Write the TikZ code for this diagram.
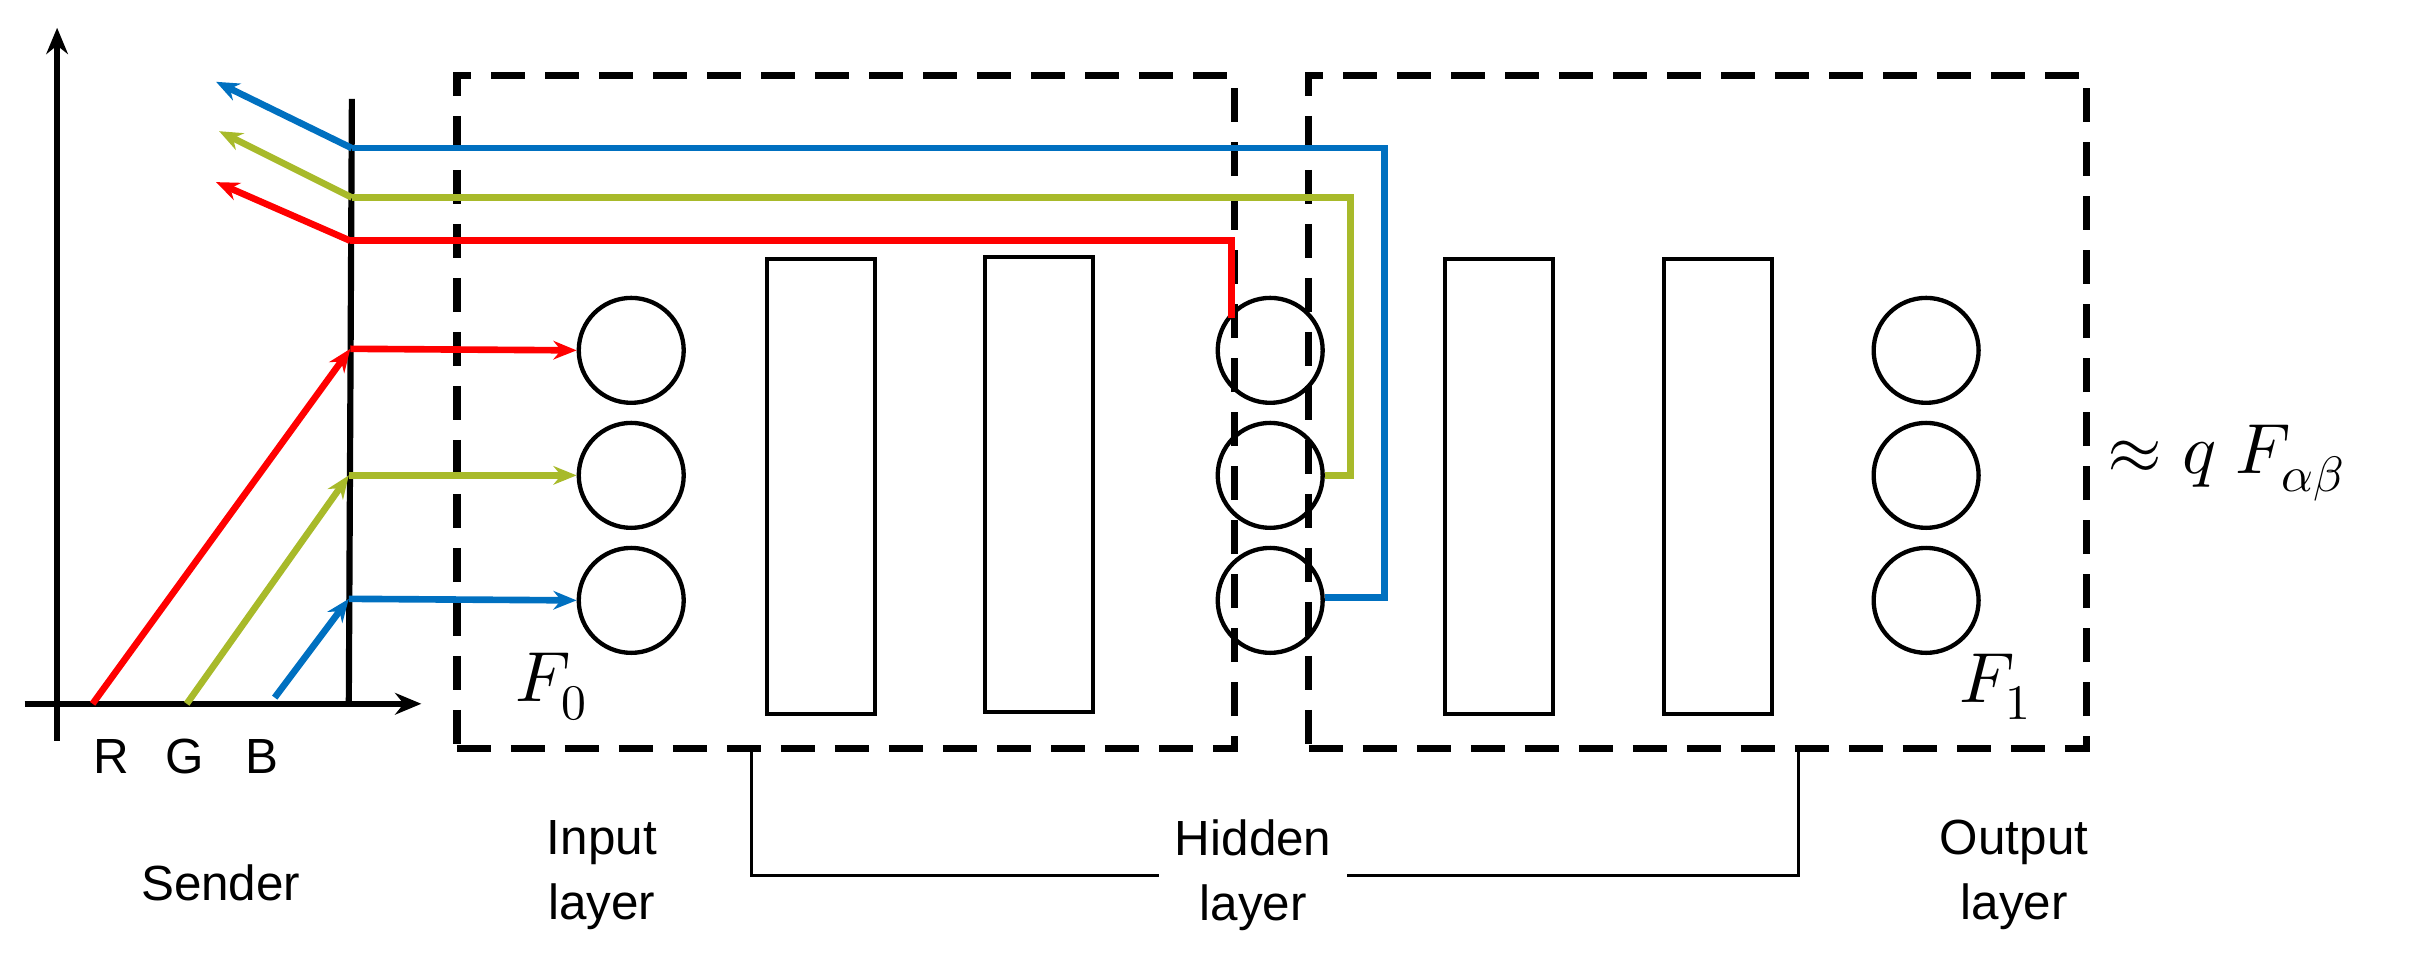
\documentclass[tikz,border=0pt]{standalone}
\usepackage{fontspec}
\setmainfont{Liberation Sans}
\usepackage{unicode-math}
\setmathfont{Latin Modern Math}
\usetikzlibrary{arrows.meta}
\definecolor{cr}{HTML}{FF0000}
\definecolor{cg}{HTML}{A8BA2A}
\definecolor{cb}{HTML}{0070C0}
\begin{document}
\begin{tikzpicture}[x=1pt,y=-1pt,
  sig/.style={line width=4.3pt},
  arr/.style={sig,-{Stealth[length=15pt,width=12pt]}},
  axis/.style={line width=4pt,-{Stealth[length=17pt,width=14pt]}},
  neuron/.style={circle,draw,line width=2.8pt,minimum size=68pt,inner sep=0pt},
  layer/.style={draw,line width=2.6pt,minimum width=70pt,minimum height=295pt,inner sep=0pt},
  box/.style={draw,line width=4.8pt,dash pattern=on 22pt off 13pt},
  lbl/.style={font=\fontsize{32}{42}\selectfont,align=center},
  mlbl/.style={font=\fontsize{46}{50}\selectfont}]
\useasboundingbox (0,0) rectangle (1568,625);
% axes
\coordinate (yb) at (37,480); \coordinate (yt) at (37,18);
\coordinate (xl) at (16,456); \coordinate (xr) at (273,456);
\draw[axis] (yb) -- (yt);
\draw[axis] (xl) -- (xr);
\coordinate (st) at (228,64); \coordinate (sb) at (226,456);
\draw[line width=4pt] (st) -- (sb);
\node[lbl] (R) at (72,490) {R};
\node[lbl] (G) at (120,490) {G};
\node[lbl] (B) at (170,490) {B};
\node[lbl] (sender) at (143,572) {Sender};
% boxes
\node[box,minimum width=504pt,minimum height=436pt,inner sep=0pt] (F0box) at (548,267) {};
\node[box,minimum width=504pt,minimum height=436pt,inner sep=0pt] (F1box) at (1100,267) {};
\node[mlbl] (F0) at (357,445) {$F_0$};
\node[mlbl] (F1) at (1293,445) {$F_1$};
\node[mlbl,anchor=west] (q) at (1362,300) {$\approx q\ F_{\alpha\beta}$};
% neurons
\foreach \n/\x in {i/409,h/823,o/1248}{
  \node[neuron] (\n1) at (\x,227) {};
  \node[neuron] (\n2) at (\x,308) {};
  \node[neuron] (\n3) at (\x,389) {};
}
\node[layer] (L1) at (532,315) {};
\node[layer] (L2) at (673,314) {};
\node[layer] (L3) at (971,315) {};
\node[layer] (L4) at (1113,315) {};
% incoming
\coordinate (r0) at (60,456); \coordinate (r1) at (227,226);
\coordinate (g0) at (121,456); \coordinate (g1) at (226,308);
\coordinate (b0) at (178,452); \coordinate (b1) at (226,388);
\draw[arr,cr] (r0) -- (r1);
\draw[arr,cr] (r1) -- (i1.west);
\draw[arr,cg] (g0) -- (g1);
\draw[arr,cg] (g1) -- (i2.west);
\draw[arr,cb] (b0) -- (b1);
\draw[arr,cb] (b1) -- (i3.west);
% outgoing
\coordinate (rb) at (227,156); \coordinate (rt) at (140,118);
\coordinate (gb) at (228,128); \coordinate (gt) at (142,85);
\coordinate (bb) at (228,96); \coordinate (bt) at (140,53);
\draw[sig,cr] (h1.north west) ++(0,4) coordinate (hr) -- (hr |- rb) -- (rb);
\draw[arr,cr] (rb) -- (rt);
\draw[sig,cg] (h2.east) -| (875,128) -- (gb);
\draw[arr,cg] (gb) -- (gt);
\draw[sig,cb] (h3.east) ++(0,-2) -| (897,96) -- (bb);
\draw[arr,cb] (bb) -- (bt);
% labels
\node[lbl] (inl) at (390,567) {Input\\layer};
\node[lbl,fill=white,inner xsep=10pt] (hid) at (812,567) {Hidden\\layer};
\node[lbl] (outl) at (1305,567) {Output\\layer};
\coordinate (bl) at (487,485); \coordinate (br) at (1165,485);
\draw[line width=2pt] (bl) |- (hid.west);
\draw[line width=2pt] (br) |- (hid.east);
\end{tikzpicture}
\end{document}
